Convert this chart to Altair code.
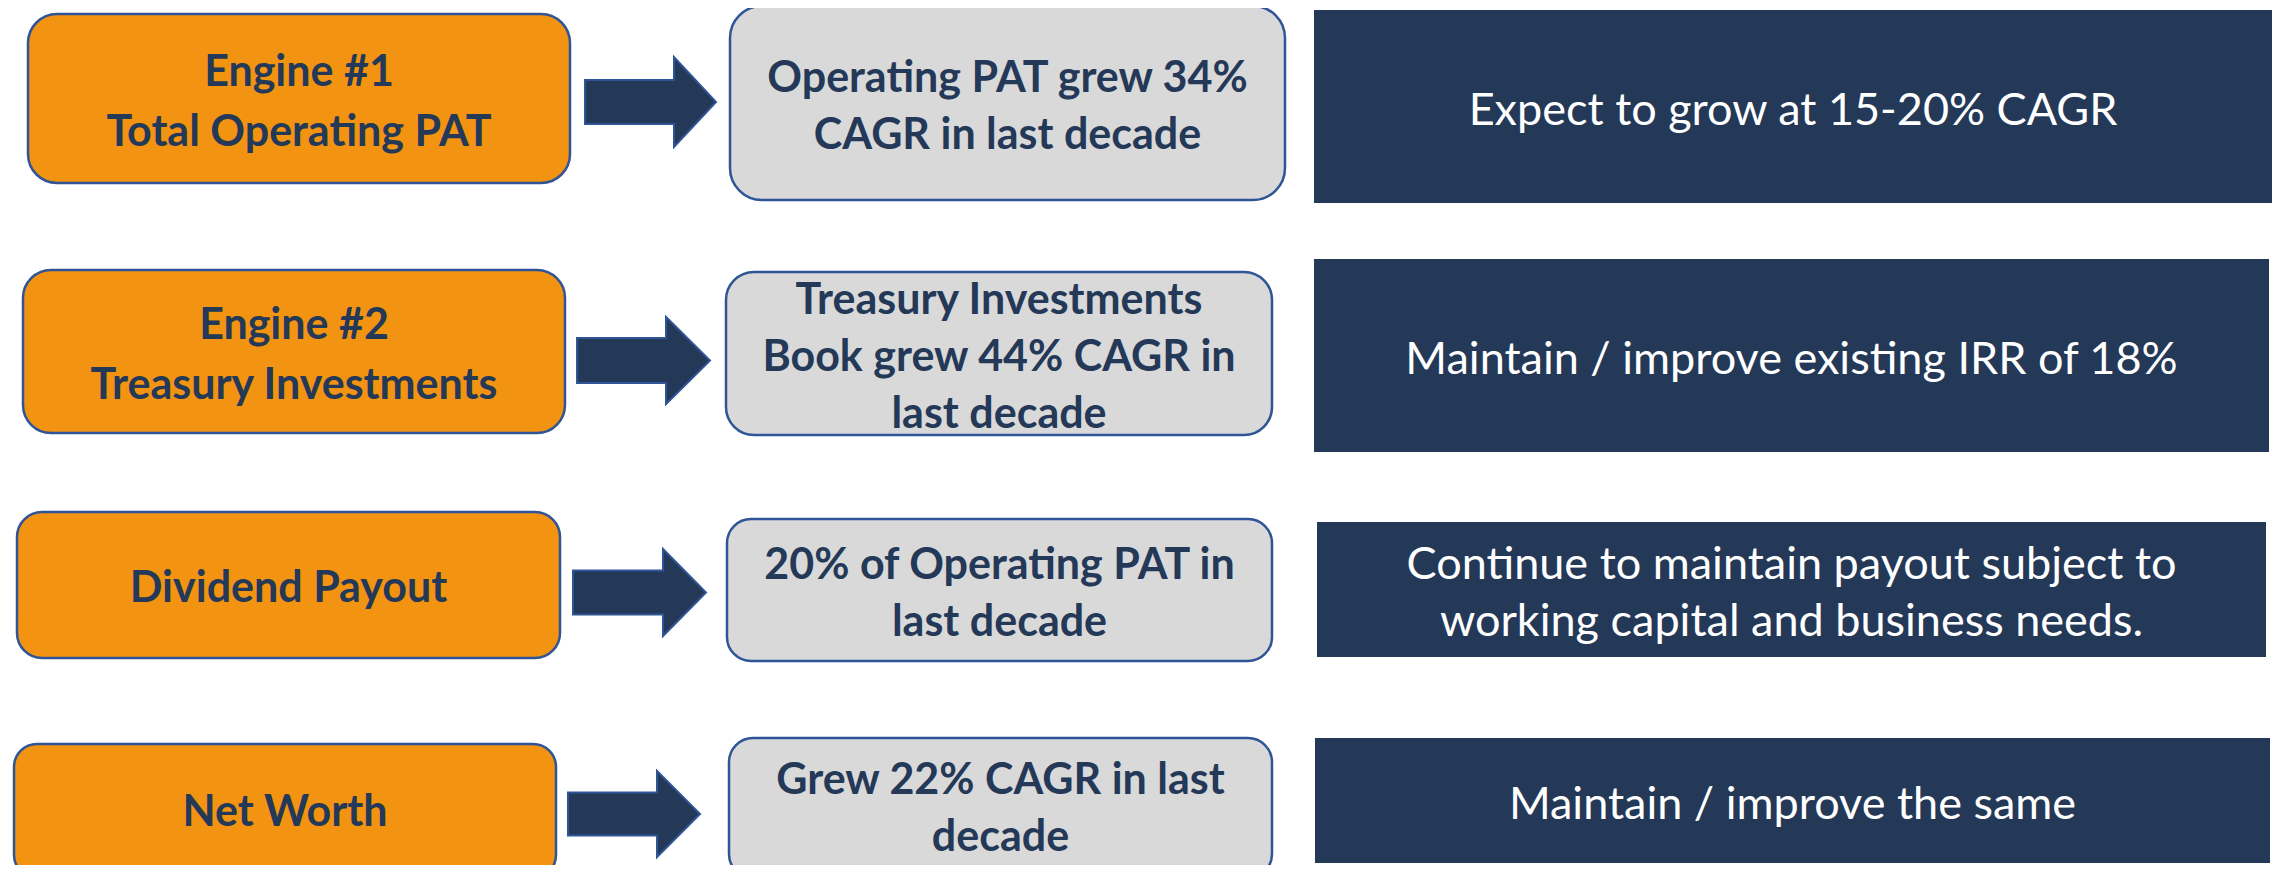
import altair as alt
import pandas as pd

# ---- text content ----
engines = ["Engine #1\nTotal Operating PAT", "Engine #2\nTreasury Investments",
           "Dividend Payout", "Net Worth"]
history = ["Operating PAT grew 34%\nCAGR in last decade",
           "Treasury Investments\nBook grew 44% CAGR in\nlast decade",
           "20% of Operating PAT in\nlast decade",
           "Grew 22% CAGR in last\ndecade"]
outlook = ["Expect to grow at 15-20% CAGR",
           "Maintain / improve existing IRR of 18%",
           "Continue to maintain payout subject to\nworking capital and business needs.",
           "Maintain / improve the same"]

# ---- layout (page pixel coordinates) ----
orange_box = [(28, 570, 14, 183), (23, 565, 270, 433), (17, 560, 512, 658), (14, 556, 744, 878)]
gray_box = [(730, 1285, 6, 200), (726, 1272, 272, 435), (727, 1272, 519, 661), (729, 1272, 738, 878)]
dark_box = [(1314, 2272, 10, 203), (1314, 2269, 259, 452), (1317, 2266, 522, 657), (1315, 2270, 738, 863)]
# arrow: shaft start, head base, tip, shaft top, shaft bottom, head top, head bottom
arrows = [(585, 674, 716, 80, 124, 57, 147),
          (577, 666, 710, 338, 383, 317, 404),
          (573, 663, 706, 571, 615, 549, 636),
          (568, 657, 700, 793, 836, 771, 857)]

ORANGE = "#F39312"
BORDER = "#2F5597"
GRAY = "#D9D9D9"
NAVY = "#243858"
TEXT_DY = 4

W, H = 2266, 857
xs = alt.Scale(domain=[8, 8 + W], nice=False, zero=False)
ys = alt.Scale(domain=[8, 8 + H], nice=False, zero=False, reverse=True)
X = lambda f: alt.X(f, type="quantitative", scale=xs, axis=None)
Y = lambda f: alt.Y(f, type="quantitative", scale=ys, axis=None)

layers = []

def box_layer(b, fill, radius, stroke):
    df = pd.DataFrame([{"x1": b[0], "x2": b[1], "y1": b[2], "y2": b[3]}])
    kw = dict(fill=fill, cornerRadius=radius, clip=True)
    if stroke:
        kw.update(stroke=BORDER, strokeWidth=2.5)
    return alt.Chart(df).mark_rect(**kw).encode(
        x=X("x1"), x2="x2", y=Y("y1"), y2="y2")

for b in orange_box:
    layers.append(box_layer(b, ORANGE, round(0.17 * min(b[1] - b[0], b[3] - b[2], 170)), True))
for b in gray_box:
    layers.append(box_layer(b, GRAY, round(0.17 * min(b[1] - b[0], b[3] - b[2], 190)), True))
for b in dark_box:
    layers.append(box_layer(b, NAVY, 0, False))

# block arrows drawn as a custom symbol shape (unit box: head height = 2 units)
for a in arrows:
    s, hb, tip, st, sb, ht, hbt = a
    u = (hbt - ht) / 2.0
    half_len = (tip - s) / 2.0 / u
    base = -half_len + (hb - s) / u
    sh = (sb - st) / 2.0 / u
    f = lambda v: f"{v:.3f}"
    path = (f"M{f(-half_len)},{f(-sh)}L{f(base)},{f(-sh)}L{f(base)},-1L{f(half_len)},0"
            f"L{f(base)},1L{f(base)},{f(sh)}L{f(-half_len)},{f(sh)}Z")
    pt = pd.DataFrame([{"cx": (s + tip) / 2.0, "cy": (ht + hbt) / 2.0}])
    layers.append(
        alt.Chart(pt).mark_point(shape=path, size=(2 * u) ** 2, filled=True,
                                 fill=NAVY, fillOpacity=1, stroke=BORDER,
                                 strokeWidth=2, opacity=1)
        .encode(x=X("cx"), y=Y("cy"))
    )

def text_rows(texts, boxes, lh):
    rows = []
    for t, b in zip(texts, boxes):
        n = t.count("\n") + 1
        cy = (b[2] + min(b[3], 873)) / 2 - (n - 1) / 2 * lh + TEXT_DY
        rows.append({"t": t, "cx": (b[0] + b[1]) / 2, "cy": cy})
    return pd.DataFrame(rows)

LH_O, LH_G, LH_D = 60, 57, 57
layers.append(
    alt.Chart(text_rows(engines, orange_box, LH_O)).mark_text(
        font="Lato", fontWeight="bold", fontSize=43, color=NAVY, align="center",
        baseline="middle", lineBreak="\n", lineHeight=LH_O)
    .encode(x=X("cx"), y=Y("cy"), text="t:N")
)
layers.append(
    alt.Chart(text_rows(history, gray_box, LH_G)).mark_text(
        font="Lato", fontWeight="bold", fontSize=43, color=NAVY, align="center",
        baseline="middle", lineBreak="\n", lineHeight=LH_G)
    .encode(x=X("cx"), y=Y("cy"), text="t:N")
)
layers.append(
    alt.Chart(text_rows(outlook, dark_box, LH_D)).mark_text(
        font="Lato", fontSize=45, color="white", align="center",
        baseline="middle", lineBreak="\n", lineHeight=LH_D)
    .encode(x=X("cx"), y=Y("cy"), text="t:N")
)

chart = alt.layer(*layers).properties(
    width=W, height=H, padding=0, autosize=alt.AutoSizeParams(type="none")
).configure_view(stroke=None)

chart.save("out.html", embed_options={"renderer": "svg", "actions": False})
